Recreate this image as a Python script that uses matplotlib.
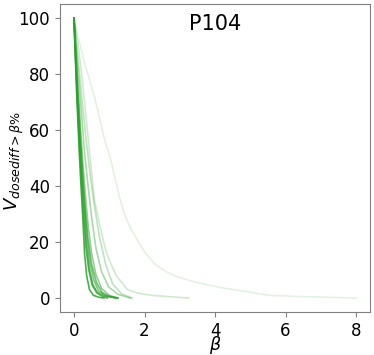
import matplotlib.pyplot as plt

# each curve: beta values and V (%) values
curves_beta = [
    [0, 0.04, 0.08, 0.15, 0.2, 0.25, 0.3, 0.36, 0.44, 0.55, 0.7, 0.85],
    [0, 0.04, 0.09, 0.16, 0.22, 0.28, 0.34, 0.42, 0.52, 0.65, 0.8, 0.95],
    [0, 0.05, 0.1, 0.17, 0.24, 0.3, 0.37, 0.45, 0.56, 0.7, 0.9, 1.2],
    [0, 0.05, 0.11, 0.19, 0.26, 0.33, 0.41, 0.5, 0.62, 0.78, 1.0, 1.25],
    [0, 0.05, 0.1, 0.18, 0.25, 0.32, 0.4, 0.5, 0.64, 0.8, 1.0, 1.25],
    [0, 0.04, 0.09, 0.17, 0.23, 0.29, 0.35, 0.43, 0.53, 0.66, 0.85, 1.2],
    [0, 0.06, 0.13, 0.22, 0.3, 0.4, 0.5, 0.62, 0.78, 0.98, 1.25, 1.6],
    [0, 0.07, 0.15, 0.25, 0.35, 0.46, 0.58, 0.72, 0.9, 1.1, 1.35, 1.65],
    [0, 0.1, 0.2, 0.3, 0.42, 0.58, 0.75, 0.9, 1.0, 1.2, 1.52, 1.8, 2.18, 2.7, 3.25],
    [0, 0.1, 0.3, 0.58, 0.86, 1.05, 1.29, 1.43, 1.6, 1.8, 2.0, 2.28, 2.6, 2.94,
     3.5, 4.08, 4.8, 5.5, 6.5, 8.0],
]
curves_v = [
    [100, 86, 72, 52, 40, 29, 16, 8, 3, 1, 0.3, 0],
    [100, 87, 72, 54, 40, 28, 18, 10, 4.5, 1.8, 0.6, 0],
    [100, 88, 74, 57, 43, 33, 22, 13, 6.5, 2.5, 0.8, 0],
    [100, 89, 76, 60, 47, 36, 25, 16, 8.5, 3.5, 1, 0],
    [100, 88, 75, 58, 44, 32, 21, 12, 5.5, 2, 0.6, 0],
    [100, 87, 73, 55, 42, 31, 20, 11, 5, 2, 0.8, 0],
    [100, 90, 79, 65, 52, 40, 29, 18, 9.5, 4, 1.3, 0],
    [100, 91, 81, 68, 56, 44, 33, 22, 12, 5, 1.5, 0],
    [100, 92, 82, 70, 55, 35, 25, 17, 13.5, 8, 3, 1.8, 1, 0.5, 0],
    [100, 94, 84, 72, 57, 49, 36, 30, 25, 20.6, 16.5, 12.3, 9.5, 7.5,
     5.5, 3.9, 2.5, 1, 0.5, 0],
]
curves_alpha = [0.85, 0.75, 0.6, 0.5, 0.65, 0.7, 0.4, 0.3, 0.22, 0.13]

fig = plt.figure(figsize=(3.74, 3.55), dpi=100)
ax = fig.add_axes([0.16, 0.121, 0.83, 0.868])

for b, v, a in zip(curves_beta, curves_v, curves_alpha):
    ax.plot(b, v, color='#2ca02c', alpha=a, linewidth=1.2)

ax.text(0.5, 0.935, 'P104', transform=ax.transAxes, ha='center', va='center',
        fontsize=15)
ax.set_xlabel(r'$\beta$', fontsize=12.5)
ax.set_ylabel(r'$V_{dosediff>\beta\%}$', fontsize=13)
ax.xaxis.set_label_coords(0.5, -0.07)
ax.yaxis.set_label_coords(-0.11, 0.49)
ax.set_xticks([0, 2, 4, 6, 8])
ax.set_yticks([0, 20, 40, 60, 80, 100])
ax.tick_params(labelsize=12, color='#808080')
for s in ax.spines.values():
    s.set_color('#808080')

fig.savefig('out.png', dpi=100)
